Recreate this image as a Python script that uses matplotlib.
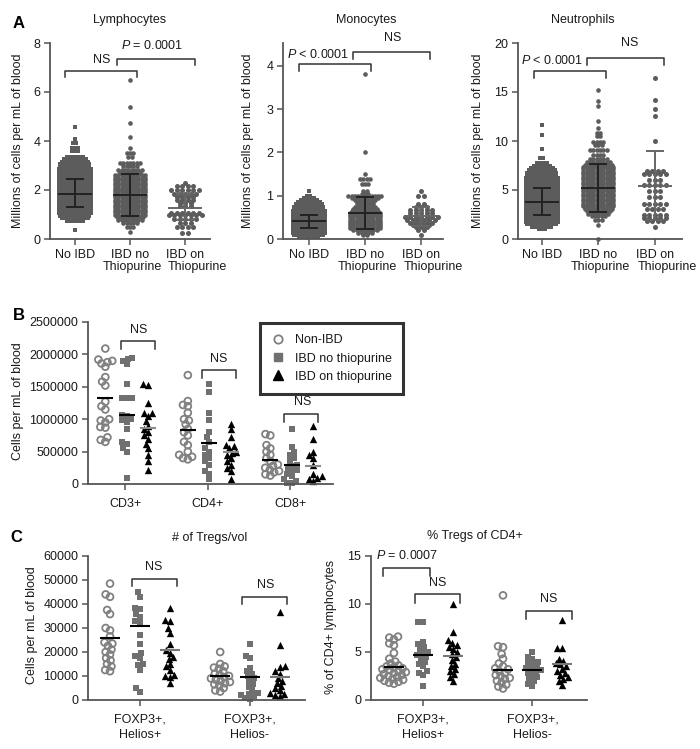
import numpy as np
import matplotlib
matplotlib.use("Agg")
import matplotlib.pyplot as plt
from matplotlib.lines import Line2D

plt.rcParams['font.family'] = ['Liberation Sans', 'DejaVu Sans']
plt.rcParams['mathtext.fontset'] = 'custom'
plt.rcParams['mathtext.it'] = 'Liberation Sans:italic'
plt.rcParams['mathtext.rm'] = 'Liberation Sans'

# ---------------- DATA ----------------
groups_A = ['No IBD', 'IBD no\nThiopurine', 'IBD on\nThiopurine']

# Panel A: values grouped into rows (value level, number of points in the row)
lym_no_lv = [0.37, 0.75, 0.85, 0.95, 1.05, 1.15, 1.25, 1.35, 1.45, 1.55, 1.65, 1.75, 1.85, 1.95, 2.05,
             2.15, 2.25, 2.35, 2.45, 2.55, 2.65, 2.75, 2.85, 2.95, 3.05, 3.15, 3.25, 3.35, 3.6, 3.7, 3.9, 4.1, 4.58]
lym_no_ct = [1, 6, 9, 10, 11, 11, 11, 11, 11, 11, 11, 11, 11, 11, 11,
             11, 11, 11, 11, 11, 11, 11, 11, 10, 10, 9, 8, 6, 3, 3, 2, 1, 1]
lym_ibd_lv = [0.3, 0.5, 0.64, 0.78, 0.9, 1.0, 1.1, 1.2, 1.3, 1.4, 1.5, 1.6, 1.7, 1.8, 1.9, 2.0, 2.1,
              2.2, 2.3, 2.4, 2.5, 2.6, 2.7, 2.82, 2.98, 3.1, 3.36, 3.52, 3.7, 4.15, 4.72, 5.37, 6.5]
lym_ibd_ct = [1, 3, 5, 8, 9, 10, 10, 10, 10, 10, 10, 10, 10, 10, 10, 10, 10,
              10, 10, 10, 10, 10, 7, 8, 5, 7, 2, 3, 1, 1, 1, 1, 1]
lym_thio_lv = [0.25, 0.5, 0.65, 0.82, 0.97, 1.07, 1.35, 1.45, 1.6, 1.72, 1.85, 2.0, 2.18, 2.27]
lym_thio_ct = [2, 4, 3, 5, 7, 6, 3, 3, 4, 4, 5, 6, 4, 1]
lym_med = [1.85, 1.8, 1.28]
lym_q1 = [1.3, 0.95, 0.78]
lym_q3 = [2.45, 2.65, 1.85]

mono_no_lv = [0.05, 0.1, 0.15, 0.2, 0.25, 0.3, 0.35, 0.4, 0.45, 0.5, 0.55, 0.6, 0.65, 0.7, 0.75,
              0.8, 0.85, 0.9, 0.95, 1.0, 1.1]
mono_no_ct = [7, 10, 11, 11, 11, 11, 11, 11, 11, 11, 11, 11, 11, 10, 10, 9, 8, 6, 4, 2, 1]
mono_ibd_lv = [0.1, 0.15, 0.2, 0.25, 0.3, 0.35, 0.4, 0.45, 0.5, 0.55, 0.6, 0.65, 0.7, 0.75, 0.8,
               0.85, 0.9, 0.95, 1.0, 1.05, 1.12, 1.28, 1.38, 1.5, 2.0, 3.82]
mono_ibd_ct = [2, 5, 8, 10, 10, 10, 10, 10, 10, 10, 10, 9, 8, 7, 6, 6, 7, 9, 11, 3, 2, 3, 4, 1, 1, 1]
mono_thio_lv = [0.1, 0.2, 0.27, 0.32, 0.38, 0.45, 0.52, 0.6, 0.68, 0.75, 0.82, 1.0, 1.1]
mono_thio_ct = [1, 2, 3, 4, 5, 6, 7, 5, 5, 3, 2, 2, 1]
mono_med = [0.42, 0.6, 0.53]
mono_q1 = [0.25, 0.22, 0.3]
mono_q3 = [0.55, 0.97, 0.74]

neu_no_lv = [1.0, 1.25, 1.5, 1.75, 2.0, 2.25, 2.5, 2.75, 3.0, 3.25, 3.5, 3.75, 4.0, 4.25, 4.5, 4.75,
             5.0, 5.25, 5.5, 5.75, 6.0, 6.25, 6.5, 6.75, 7.0, 7.25, 7.5, 7.75, 8.25, 9.2, 10.6, 11.6]
neu_no_ct = [3, 7, 10, 11, 11, 11, 11, 11, 11, 11, 11, 11, 11, 11, 11, 11,
             11, 11, 11, 11, 11, 11, 10, 10, 9, 8, 6, 4, 2, 1, 1, 1]
neu_ibd_lv = [0.0, 1.4, 1.9, 2.3, 2.6, 2.85, 3.1, 3.35, 3.6, 3.85, 4.1, 4.35, 4.6, 4.85, 5.1, 5.35,
              5.6, 5.85, 6.1, 6.35, 6.6, 6.85, 7.1, 7.35, 7.6, 7.85, 8.2, 8.6, 9.1, 9.6, 9.9, 10.5,
              10.8, 11.3, 12.0, 13.6, 14.1, 15.2]
neu_ibd_ct = [1, 1, 3, 5, 7, 8, 9, 10, 10, 10, 10, 10, 10, 10, 10, 10,
              10, 10, 10, 10, 10, 10, 10, 10, 9, 8, 6, 4, 6, 3, 4, 2,
              2, 1, 1, 1, 1, 1]
neu_thio_lv = [1.2, 1.8, 2.1, 2.5, 3.1, 3.6, 4.3, 4.9, 5.5, 6.0, 6.6, 6.9, 10.0, 12.6, 13.3, 14.2, 16.4]
neu_thio_ct = [1, 4, 5, 5, 4, 5, 3, 3, 5, 3, 5, 4, 1, 1, 1, 1, 1]
neu_med = [3.8, 5.2, 5.4]
neu_q1 = [2.4, 2.8, 1.9]
neu_q3 = [5.2, 7.65, 9.0]

# Panel B
cats_B = ['CD3+', 'CD4+', 'CD8+']
legend_B = ['Non-IBD', 'IBD no thiopurine', 'IBD on thiopurine']
cd3_non = [2090000, 1920000, 1900000, 1880000, 1860000, 1810000, 1650000, 1580000, 1520000, 1270000,
           1200000, 1150000, 1000000, 980000, 950000, 880000, 870000, 720000, 680000, 650000]
cd3_ibd = [1950000, 1930000, 1900000, 1850000, 1550000, 1330000, 1320000, 1320000, 1070000, 1050000,
           1000000, 980000, 950000, 850000, 650000, 620000, 550000, 500000, 100000]
cd3_thio = [1550000, 1530000, 1250000, 1100000, 1100000, 1050000, 970000, 900000, 850000, 800000,
            750000, 700000, 620000, 550000, 450000, 350000, 220000]
cd4_non = [1680000, 1280000, 1220000, 1200000, 1100000, 1000000, 980000, 920000, 850000, 800000,
           750000, 650000, 600000, 500000, 450000, 420000, 400000, 380000]
cd4_ibd = [1550000, 1420000, 1100000, 980000, 800000, 720000, 650000, 550000, 500000, 450000,
           400000, 350000, 300000, 200000, 150000, 70000]
cd4_thio = [930000, 850000, 720000, 600000, 580000, 550000, 500000, 480000, 450000, 400000,
            350000, 300000, 250000, 200000, 80000]
cd8_non = [770000, 750000, 600000, 550000, 500000, 450000, 400000, 350000, 300000, 280000,
           250000, 220000, 200000, 180000, 150000, 130000]
cd8_ibd = [850000, 570000, 500000, 450000, 400000, 350000, 300000, 280000, 250000, 220000,
           200000, 150000, 120000, 80000, 50000, 20000, 10000]
cd8_thio = [900000, 700000, 500000, 450000, 400000, 300000, 150000, 120000, 100000, 80000, 50000]
med_B = [[1330000, 1070000, 870000], [840000, 630000, 500000], [370000, 300000, 280000]]

# Panel C
cats_C = ['FOXP3+,\nHelios+', 'FOXP3+,\nHelios-']
hp_non = [48500, 44000, 43000, 37500, 35800, 30000, 29000, 26500, 24000, 23500, 22500, 21000,
          20000, 19000, 17500, 16500, 15000, 14000, 12500, 12000]
hp_ibd = [45000, 43000, 38500, 38000, 36000, 34500, 33000, 32000, 27000, 23500, 19500, 18500,
          17500, 15000, 14500, 12500, 5000, 3500]
hp_thio = [38500, 33500, 33000, 30000, 28000, 23500, 21000, 19500, 18000, 17000, 15000, 14000,
           12500, 10500, 10000, 9500, 7000]
hm_non = [20000, 15000, 14000, 13500, 13000, 12000, 11000, 10500, 10000, 9500, 9000, 8500, 8000,
          7500, 7000, 6500, 6000, 5000, 4000, 3500]
hm_ibd = [23500, 18500, 17500, 13500, 12000, 11000, 10000, 9000, 8000, 6500, 5500, 4000, 3000,
          2500, 2000, 1500, 800, 500]
hm_thio = [36500, 23000, 14000, 13800, 12000, 11000, 9000, 8000, 7000, 6000, 5000, 4000, 3000,
           2500, 2000, 1500]
med_C1 = [[26000, 30800, 20800], [10000, 9500, 9500]]

pp_non = [6.6, 6.5, 6.3, 5.9, 5.7, 4.9, 4.3, 4.0, 3.8, 3.6, 3.5, 3.4, 3.3, 3.2, 3.1, 3.0, 2.9, 2.8,
          2.7, 2.6, 2.5, 2.4, 2.3, 2.2, 2.1, 2.0, 1.9, 1.8, 1.7]
pp_ibd = [8.1, 8.1, 6.0, 5.8, 5.5, 5.3, 5.0, 4.9, 4.7, 4.5, 4.3, 4.0, 3.8, 3.5, 3.0, 2.8, 2.6, 1.5]
pp_thio = [10.0, 7.1, 6.2, 5.9, 5.7, 5.5, 5.3, 5.0, 4.8, 4.5, 4.2, 3.8, 3.5, 3.2, 3.0, 2.7, 2.4, 2.0]
pm_non = [10.9, 5.6, 5.5, 4.8, 4.3, 3.8, 3.5, 3.3, 3.2, 3.0, 2.8, 2.6, 2.5, 2.3, 2.2, 2.0, 1.8,
          1.6, 1.4, 1.2]
pm_ibd = [5.0, 4.5, 4.3, 4.0, 3.9, 3.7, 3.5, 3.3, 3.2, 3.1, 3.0, 2.8, 2.6, 2.4, 2.2, 2.0, 1.7, 1.5]
pm_thio = [8.3, 5.4, 5.4, 4.3, 4.1, 3.9, 3.7, 3.5, 3.2, 3.0, 2.8, 2.6, 2.4, 2.2, 2.0, 1.6]
med_C2 = [[3.4, 4.7, 4.6], [3.1, 3.15, 3.7]]

# ---------------- HELPERS ----------------
W, H = 700, 749
fig = plt.figure(figsize=(W / 100, H / 100), dpi=100)
FS = 9
AX_C = '#555555'
TXT_C = '#1a1a1a'
PT_C = '#5c5c5c'


def ftext(x, y, s, **kw):
    kw.setdefault('fontsize', FS)
    kw.setdefault('color', TXT_C)
    kw.setdefault('ha', 'center')
    kw.setdefault('va', 'center')
    return fig.text(x / W, 1 - y / H, s, **kw)


def add_ax(l, r, t, b, xlim, ylim, yticks, yticklabels=None):
    ax = fig.add_axes([l / W, 1 - b / H, (r - l) / W, (b - t) / H])
    ax.set_xlim(*xlim)
    ax.set_ylim(*ylim)
    for s in ('top', 'right'):
        ax.spines[s].set_visible(False)
    for s in ('left', 'bottom'):
        ax.spines[s].set_color(AX_C)
        ax.spines[s].set_linewidth(1.3)
    ax.tick_params(direction='out', length=4, width=1.1, color=AX_C, labelsize=FS,
                   labelcolor=TXT_C, pad=3)
    ax.set_yticks(yticks)
    if yticklabels is not None:
        ax.set_yticklabels(yticklabels)
    ax.patch.set_alpha(0)
    return ax


def ppu(ax):
    p0 = ax.transData.transform((0, 0))
    p1 = ax.transData.transform((1, 0))
    return p1[0] - p0[0]


def draw_rows(ax, xc, levels, counts, spacing_px, marker, s):
    k = spacing_px / ppu(ax)
    xs, ys = [], []
    for lv, n in zip(levels, counts):
        offs = (np.arange(n) - (n - 1) / 2.0) * k
        xs.extend(xc + offs)
        ys.extend([lv] * n)
    ax.scatter(xs, ys, marker=marker, s=s, c=PT_C, linewidths=0, zorder=2, clip_on=False)


def draw_iqr(ax, xc, med, q1, q3, color, hm=17, hc=9):
    k = 1 / ppu(ax)
    kw = dict(color=color, lw=1.4, zorder=3, solid_capstyle='butt', clip_on=False)
    ax.plot([xc - hm * k, xc + hm * k], [med, med], **kw)
    for q in (q1, q3):
        ax.plot([xc - hc * k, xc + hc * k], [q, q], **kw)
    ax.plot([xc, xc], [q1, q3], **kw)


def swarm(ax, xc, values, d_px, marker, s, face, edge, lw):
    vals = np.asarray(values, float)
    ypx = ax.transData.transform(np.column_stack([np.full(len(vals), xc), vals]))[:, 1]
    order = np.argsort(ypx)
    placed = []
    offs = np.zeros(len(vals))
    for i in order:
        y = ypx[i]
        cands = [0.0]
        for (px, py) in placed:
            dy = abs(py - y)
            if dy < d_px:
                dx = np.sqrt(d_px ** 2 - dy ** 2)
                cands += [px - dx, px + dx]
        cands.sort(key=lambda c: (abs(c), c))
        chosen = cands[0]
        for c in cands:
            if all((c - px) ** 2 + (y - py) ** 2 >= d_px ** 2 - 1e-6 for px, py in placed):
                chosen = c
                break
        offs[i] = chosen
        placed.append((chosen, y))
    k = 1 / ppu(ax)
    ax.scatter(xc + offs * k, vals, marker=marker, s=s, facecolors=face, edgecolors=edge,
               linewidths=lw, zorder=2, clip_on=False)


def hline(ax, xc, y, color, half_px=8):
    k = 1 / ppu(ax)
    ax.plot([xc - half_px * k, xc + half_px * k], [y, y], color=color, lw=1.5, zorder=3,
            solid_capstyle='butt', clip_on=False)


def bracket(ax, x1, x2, ytop, ydrop, label, tx, ty):
    ax.plot([x1, x1, x2, x2], [ydrop, ytop, ytop, ydrop], color='#333333', lw=1.1,
            clip_on=False, zorder=4)
    ax.text(tx, ty, label, ha='center', va='center', fontsize=FS, color=TXT_C, clip_on=False)


def two_line_labels(ax, labels, shifts, y0=-16, dy=12):
    # category labels drawn line by line (second line nudged as in the original)
    ax.set_xticklabels([])
    for i, lab in enumerate(labels):
        for j, line in enumerate(lab.split('\n')):
            dx = shifts[i] if j == 1 else 0
            ax.annotate(line, xy=(i, 0), xycoords=('data', 'axes fraction'),
                        xytext=(dx, y0 - dy * j), textcoords='offset pixels',
                        ha='center', va='center', fontsize=FS, color=TXT_C)


# ---------------- PANEL A ----------------
specA = [
    dict(box=(50, 210, 43, 239), xlim=(-0.45, 2.45), ylim=(0, 8), yt=[0, 2, 4, 6, 8],
         rows=[(lym_no_lv, lym_no_ct), (lym_ibd_lv, lym_ibd_ct), (lym_thio_lv, lym_thio_ct)],
         med=lym_med, q1=lym_q1, q3=lym_q3, title='Lymphocytes', tx=130, ylx=18,
         br=[(-0.18, 1.13, 6.86, 6.6, 'NS', 0.49, 7.3),
             (0.76, 2.18, 7.35, 7.1, r'$P$ = 0.0001', 1.4, 7.9)]),
    dict(box=(283, 443, 43, 239), xlim=(-0.46, 2.39), ylim=(0, 4.53), yt=[0, 1, 2, 3, 4],
         rows=[(mono_no_lv, mono_no_ct), (mono_ibd_lv, mono_ibd_ct), (mono_thio_lv, mono_thio_ct)],
         med=mono_med, q1=mono_q1, q3=mono_q3, title='Monocytes', tx=366, ylx=248,
         br=[(-0.18, 1.11, 4.05, 3.88, r'$P$ < 0.0001', 0.16, 4.27),
             (0.79, 2.16, 4.32, 4.15, 'NS', 1.5, 4.64)]),
    dict(box=(518, 682, 43, 239), xlim=(-0.42, 2.48), ylim=(0, 20), yt=[0, 5, 10, 15, 20],
         rows=[(neu_no_lv, neu_no_ct), (neu_ibd_lv, neu_ibd_ct), (neu_thio_lv, neu_thio_ct)],
         med=neu_med, q1=neu_q1, q3=neu_q3, title='Neutrophils', tx=583, ylx=478,
         br=[(-0.14, 1.13, 17.1, 16.4, r'$P$ < 0.0001', 0.19, 18.2),
             (0.8, 2.16, 18.45, 17.8, 'NS', 1.56, 20.0)]),
]

for sp in specA:
    l, r, t, b = sp['box']
    ax = add_ax(l, r, t, b, sp['xlim'], sp['ylim'], sp['yt'])
    ax.set_xticks(range(3))
    two_line_labels(ax, groups_A, [0, 2, 12])
    spacing = [3.2, 3.3, 5.5]
    markers = ['s', 'o', 'o']
    sizes = [10, 11, 13]
    for i, (lv, ct) in enumerate(sp['rows']):
        draw_rows(ax, i, lv, ct, spacing[i], markers[i], sizes[i])
    colors = ['#222222', '#222222', '#666666']
    for i in range(3):
        draw_iqr(ax, i, sp['med'][i], sp['q1'][i], sp['q3'][i], colors[i])
    for (x1, x2, yt_, yd, lab, tx, ty) in sp['br']:
        bracket(ax, x1, x2, yt_, yd, lab, tx, ty)
    ftext(sp['tx'], 20, sp['title'])
    ftext(sp['ylx'], 141, 'Millions of cells per mL of blood', rotation=90)

ftext(19, 24, 'A', fontsize=12, fontweight='bold', color='black')

# ---------------- PANEL B ----------------
axB = add_ax(88, 333, 322, 484, (-0.45, 2.52), (0, 2500000),
             [0, 500000, 1000000, 1500000, 2000000, 2500000],
             ['0', '500000', '1000000', '1500000', '2000000', '2500000'])
axB.set_xticks(range(3))
axB.set_xticklabels(cats_B)
axB.tick_params(axis='x', pad=6)
dataB = [(cd3_non, cd3_ibd, cd3_thio), (cd4_non, cd4_ibd, cd4_thio), (cd8_non, cd8_ibd, cd8_thio)]
offB = [-0.24, 0.02, 0.28]
for ci, (gn, gi, gt) in enumerate(dataB):
    swarm(axB, ci + offB[0], gn, 5.0, 'o', 24, 'none', '#808080', 1.3)
    swarm(axB, ci + offB[1], gi, 5.0, 's', 24, '#707070', '#707070', 0)
    swarm(axB, ci + offB[2], gt, 5.0, '^', 28, 'black', 'black', 0)
    hline(axB, ci + offB[0], med_B[ci][0], 'black')
    hline(axB, ci + offB[1], med_B[ci][1], 'black')
    hline(axB, ci + offB[2], med_B[ci][2], '#8a8a8a')
bracket(axB, -0.05, 0.36, 2200000, 2090000, 'NS', 0.16, 2380000)
bracket(axB, 0.93, 1.35, 1760000, 1640000, 'NS', 1.13, 1930000)
bracket(axB, 1.93, 2.34, 1080000, 960000, 'NS', 2.15, 1270000)

handles = [Line2D([], [], ls='none', marker='o', ms=6, mfc='none', mec='#808080', mew=1.3),
           Line2D([], [], ls='none', marker='s', ms=6, mfc='#707070', mec='#707070'),
           Line2D([], [], ls='none', marker='^', ms=6.5, mfc='black', mec='black')]
leg = axB.legend(handles, legend_B, loc='upper left', bbox_to_anchor=(260 / W, 1 - 323 / H),
                 bbox_transform=fig.transFigure, borderaxespad=0, fontsize=FS, frameon=True,
                 fancybox=False, edgecolor='black', handlelength=1.0, handletextpad=0.9,
                 labelspacing=0.5, borderpad=0.9)
leg.get_frame().set_linewidth(2.2)
for t_ in leg.get_texts():
    t_.set_color(TXT_C)
ftext(18, 401, 'Cells per mL of blood', rotation=90)
ftext(19, 316, 'B', fontsize=12, fontweight='bold', color='black')

# ---------------- PANEL C ----------------
axC1 = add_ax(88, 305, 556, 700, (-0.47, 1.5), (0, 60000),
              [0, 10000, 20000, 30000, 40000, 50000, 60000],
              ['0', '10000', '20000', '30000', '40000', '50000', '60000'])
axC2 = add_ax(371, 587, 556, 700, (-0.48, 1.5), (0, 15), [0, 5, 10, 15])
offC = [-0.27, 0.0, 0.27]
for ax, data, meds in [(axC1, [(hp_non, hp_ibd, hp_thio), (hm_non, hm_ibd, hm_thio)], med_C1),
                       (axC2, [(pp_non, pp_ibd, pp_thio), (pm_non, pm_ibd, pm_thio)], med_C2)]:
    ax.set_xticks(range(2))
    ax.set_xticklabels(cats_C)
    ax.tick_params(axis='x', pad=6)
    for lab in ax.get_xticklabels():
        lab.set_linespacing(1.35)
    for ci, (gn, gi, gt) in enumerate(data):
        swarm(ax, ci + offC[0], gn, 5.0, 'o', 24, 'none', '#808080', 1.3)
        swarm(ax, ci + offC[1], gi, 5.0, 's', 24, '#707070', '#707070', 0)
        swarm(ax, ci + offC[2], gt, 5.0, '^', 28, 'black', 'black', 0)
        hline(ax, ci + offC[0], meds[ci][0], 'black', 10)
        hline(ax, ci + offC[1], meds[ci][1], 'black', 10)
        hline(ax, ci + offC[2], meds[ci][2], '#777777', 10)

bracket(axC1, -0.07, 0.34, 50400, 47300, 'NS', 0.13, 55400)
bracket(axC1, 0.93, 1.34, 42900, 39800, 'NS', 1.14, 47900)
bracket(axC2, -0.37, 0.06, 13.75, 12.9, r'$P$ = 0.0007', -0.15, 15.1)
bracket(axC2, -0.08, 0.34, 11.0, 10.15, 'NS', 0.13, 12.2)
bracket(axC2, 0.94, 1.36, 9.3, 8.45, 'NS', 1.15, 10.5)

ftext(210, 538, '# of Tregs/vol')
ftext(475, 536, '% Tregs of CD4+')
ftext(32, 625, 'Cells per mL of blood', rotation=90)
ftext(331, 627, '% of CD4+ lymphocytes', rotation=90)
ftext(16, 537, 'C', fontsize=12, fontweight='bold', color='black')

fig.savefig('out.png', dpi=100, facecolor='white')
